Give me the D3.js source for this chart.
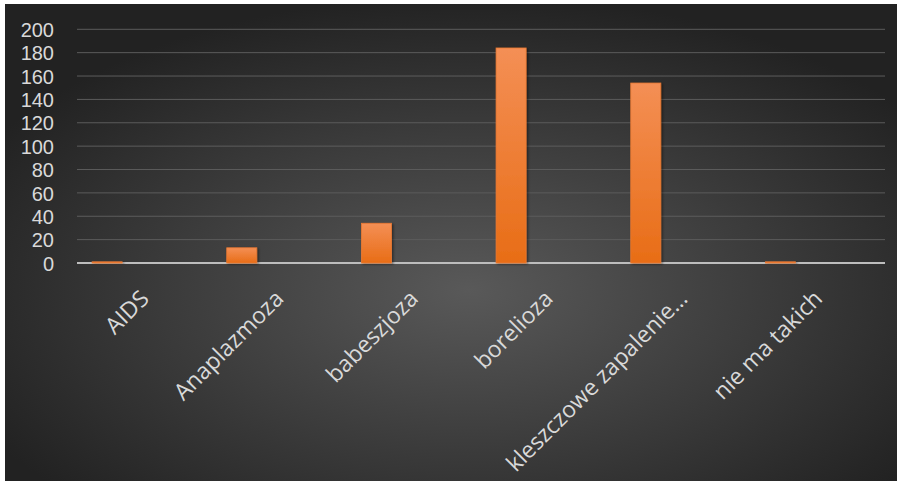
<!DOCTYPE html>
<html><head><meta charset="utf-8">
<script src="https://cdn.jsdelivr.net/npm/d3@7"></script>
<style>html,body{margin:0;padding:0;background:#fff;}svg{display:block;}</style>
</head><body><svg id="c" width="899" height="481"></svg>
<script>
const categories = ["AIDS", "Anaplazmoza", "babeszjoza", "borelioza", "kleszczowe zapalenie…", "nie ma takich"];
const values = [1, 13, 34, 184, 154, 1];
const yTicks = [0, 20, 40, 60, 80, 100, 120, 140, 160, 180, 200];

(function(){
const svg = d3.select("#c");
const defs = svg.append("defs");
const rg = defs.append("radialGradient").attr("id","bg").attr("cx","52%").attr("cy","60%").attr("r","62%");
rg.append("stop").attr("offset","0%").attr("stop-color","#595959");
rg.append("stop").attr("offset","100%").attr("stop-color","#222222");
const bg = defs.append("linearGradient").attr("id","bar").attr("x1",0).attr("y1",0).attr("x2",0).attr("y2",1);
bg.append("stop").attr("offset","0%").attr("stop-color","#f48f55");
bg.append("stop").attr("offset","100%").attr("stop-color","#e86d16");
const sh = defs.append("filter").attr("id","sh").attr("x","-30%").attr("y","-10%").attr("width","160%").attr("height","130%");
sh.append("feDropShadow").attr("dx",1.5).attr("dy",1).attr("stdDeviation",1.2).attr("flood-color","#000").attr("flood-opacity",0.45);

svg.append("rect").attr("x",5).attr("y",4).attr("width",892).attr("height",477).attr("fill","url(#bg)");

const pLeft = 77, pRight = 885, pTop = 29.3, pBottom = 263;
const x = d3.scaleBand().domain(categories).range([pLeft, pRight]).padding(0);
const y = d3.scaleLinear().domain([0, 200]).range([pBottom, pTop]);

svg.append("g").selectAll("line").data(yTicks.filter(d => d > 0)).join("line")
  .attr("x1", pLeft).attr("x2", pRight)
  .attr("y1", d => y(d)).attr("y2", d => y(d))
  .attr("stroke", "#5c5c5c").attr("stroke-width", 1);

const yAxis = d3.axisLeft(y).tickValues(yTicks).tickSize(0).tickPadding(0);
const gy = svg.append("g").attr("transform", `translate(${pLeft - 23},0)`).call(yAxis);
gy.select(".domain").remove();
gy.selectAll("text").attr("fill", "#d9d9d9").attr("font-family", "'Liberation Sans', Arial, sans-serif").attr("font-size", 20).attr("dy","0.36em");

svg.append("line").attr("x1", pLeft).attr("x2", pRight).attr("y1", y(0)).attr("y2", y(0))
  .attr("stroke", "#bdbdbd").attr("stroke-width", 2);

const bw = x.bandwidth();
svg.append("g").selectAll("rect").data(values).join("rect")
  .attr("x", (d, i) => x(categories[i]) + bw * 0.112)
  .attr("width", bw * 0.223)
  .attr("y", d => y(d))
  .attr("height", d => y(0) - y(d))
  .attr("fill", "url(#bar)")
  .attr("stroke", "#ec7a33").attr("stroke-width", 0.8)
  .attr("filter", "url(#sh)");

const xAxis = d3.axisBottom(x).tickSize(0).tickPadding(0);
const gx = svg.append("g").attr("transform", `translate(0,${y(0)})`).call(xAxis);
gx.select(".domain").remove();
gx.selectAll("text")
  .attr("fill", "#d9d9d9").attr("font-family", "'Open Sans', sans-serif").attr("font-size", 23)
  .attr("text-anchor", "end")
  .attr("dy", null).attr("y", 0)
  .attr("transform", "translate(6,37) rotate(-45)");
})();
</script></body></html>
